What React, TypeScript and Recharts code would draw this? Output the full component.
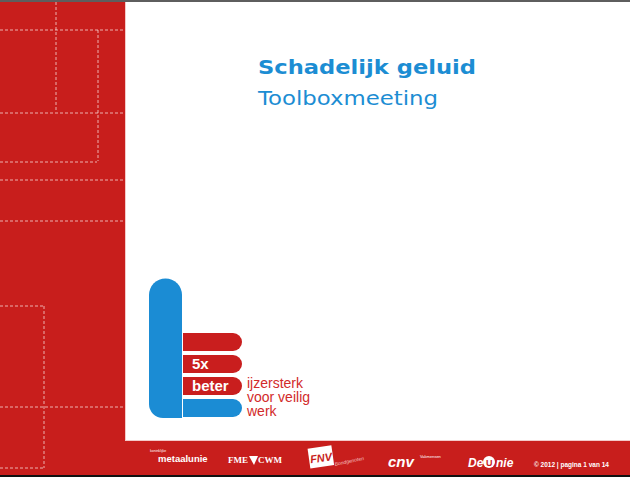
import React from 'react';
import { ComposedChart, BarChart, Bar, XAxis, YAxis, Cell, LabelList, Customized } from 'recharts';

// Slide texts
const titleText = 'Schadelijk geluid';
const subtitleText = 'Toolboxmeeting';
const taglineLines = ['ijzersterk', 'voor veilig', 'werk'];
const footerText = '© 2012 | pagina 1 van 14';

// Logo bars (top to bottom)
const logoRows = ['r1', 'r2', 'r3', 'r4'];
const logoValues = [1, 1, 1, 1];
const logoLabels = ['', '5x', 'beter', ''];
const logoColors = ['#C91E1E', '#C91E1E', '#C91E1E', '#1B8CD4'];

const logoData = logoRows.map((r, i) => ({ row: r, value: logoValues[i], label: logoLabels[i], color: logoColors[i] }));

const RED = '#C81E1C';
const BLUE = '#1B8CD4';
const TITLE_BLUE = '#1C8DD3';

const dashStyle = { stroke: 'rgba(255,255,255,0.65)', strokeWidth: 1, strokeDasharray: '3 2' } as const;

const Background = () => (
  <g>
    <rect x={0} y={0} width={630} height={477} fill={RED} />
    <rect x={125} y={2} width={505} height={439} fill="#FFFFFF" />
    <line x1={125.5} y1={2} x2={125.5} y2={441} stroke="#F3C9C8" strokeWidth={1} />
    <line x1={125} y1={440.5} x2={630} y2={440.5} stroke="#F3C9C8" strokeWidth={1} />
    <rect x={0} y={0} width={630} height={2} fill="#5E5E5E" />
    <rect x={0} y={475} width={630} height={2} fill="#111111" />
    {/* dashed decorations */}
    <line x1={56} y1={2} x2={56} y2={112} {...dashStyle} />
    <line x1={0} y1={30} x2={125} y2={30} {...dashStyle} />
    <line x1={98} y1={30} x2={98} y2={161} {...dashStyle} />
    <line x1={0} y1={113} x2={125} y2={113} {...dashStyle} />
    <line x1={0} y1={162} x2={97} y2={162} {...dashStyle} />
    <line x1={0} y1={180} x2={125} y2={180} {...dashStyle} />
    <line x1={0} y1={221} x2={125} y2={221} {...dashStyle} />
    <line x1={0} y1={306} x2={44} y2={306} {...dashStyle} />
    <line x1={44} y1={306} x2={44} y2={468} {...dashStyle} />
    <line x1={0} y1={407} x2={125} y2={407} {...dashStyle} />
    <line x1={0} y1={468} x2={44} y2={468} {...dashStyle} />
    {/* Title */}
    <text x={258} y={74} fill={TITLE_BLUE} fontFamily="DejaVu Sans" fontWeight="bold" fontSize={20} textLength={218} lengthAdjust="spacingAndGlyphs">{titleText}</text>
    <text x={258} y={105} fill={TITLE_BLUE} fontFamily="DejaVu Sans" fontSize={20} textLength={180} lengthAdjust="spacingAndGlyphs">{subtitleText}</text>
    {/* Logo vertical blue */}
    <path d="M149,295 A16.5,16.5 0 0 1 182,295 L182,418 L163,418 A14,14 0 0 1 149,404 Z" fill={BLUE} />
    {taglineLines.map((t, i) => (
      <text key={t} x={247} y={388 + i * 14} fill="#D22A2A" fontFamily="Liberation Sans" fontSize={14}>{t}</text>
    ))}
    {/* Footer logos */}
    <text x={150} y={452} fill="#fff" fontFamily="Liberation Sans" fontSize={3.5}>koninklijke</text>
    <text x={158} y={462} fill="#fff" fontFamily="Liberation Sans" fontWeight="bold" fontSize={9.5}>metaalunie</text>
    <text x={228} y={463} fill="#fff" fontFamily="Liberation Serif" fontWeight="bold" fontSize={9}>FME</text>
    <path d="M249,456 L258,456 L254,465 Z" fill="#fff" />
    <text x={258} y={463} fill="#fff" fontFamily="Liberation Serif" fontWeight="bold" fontSize={9}>CWM</text>
    <g transform="rotate(-8 320 458)">
      <rect x={309} y={447} width={24} height={20} fill="#fff" />
      <text x={310} y={462} fill={RED} fontFamily="Liberation Sans" fontWeight="bold" fontStyle="italic" fontSize={11}>FNV</text>
    </g>
    <text x={335} y={466} fill="#F5C0C0" fontFamily="Liberation Sans" fontStyle="italic" fontSize={5} transform="rotate(-12 335 466)">Bondgenoten</text>
    <text x={388} y={467} fill="#fff" fontFamily="Liberation Sans" fontWeight="bold" fontStyle="italic" fontSize={15}>cnv</text>
    <text x={420} y={458} fill="#fff" fontFamily="Liberation Sans" fontSize={4}>Vakmensen</text>
    <text x={468} y={467} fill="#fff" fontFamily="Liberation Sans" fontWeight="bold" fontStyle="italic" fontSize={12}>De</text>
    <circle cx={489} cy={462} r={6} fill="#fff" />
    <text x={486} y={466} fill={RED} fontFamily="Liberation Sans" fontWeight="bold" fontSize={9}>U</text>
    <text x={496} y={467} fill="#fff" fontFamily="Liberation Sans" fontWeight="bold" fontStyle="italic" fontSize={12}>nie</text>
    <text x={534} y={467} fill="#fff" fontFamily="Liberation Sans" fontWeight="bold" fontSize={6.5}>{footerText}</text>
  </g>
);

export default function App() {
  return (
    <div style={{ position: 'absolute', left: 0, top: 0, width: 630, height: 477 }}>
      <ComposedChart width={630} height={477} data={[]} margin={{ top: 0, right: 0, bottom: 0, left: 0 }}>
        <Customized component={Background} />
      </ComposedChart>
      <div style={{ position: 'absolute', left: 183, top: 331, width: 59, height: 88 }}>
        <BarChart
          width={59}
          height={88}
          data={logoData}
          layout="vertical"
          margin={{ top: 0, right: 0, bottom: 0, left: 0 }}
          barCategoryGap={2}
        >
          <XAxis type="number" domain={[0, 1]} hide />
          <YAxis type="category" dataKey="row" hide />
          <Bar dataKey="value" isAnimationActive={false} radius={[0, 10, 10, 0]}>
            {logoData.map((d) => (
              <Cell key={d.row} fill={d.color} />
            ))}
            <LabelList
              dataKey="label"
              position="insideLeft"
              offset={9}
              fill="#FFFFFF"
              style={{ fontFamily: 'Liberation Sans', fontWeight: 'bold', fontSize: 15 }}
            />
          </Bar>
        </BarChart>
      </div>
    </div>
  );
}
